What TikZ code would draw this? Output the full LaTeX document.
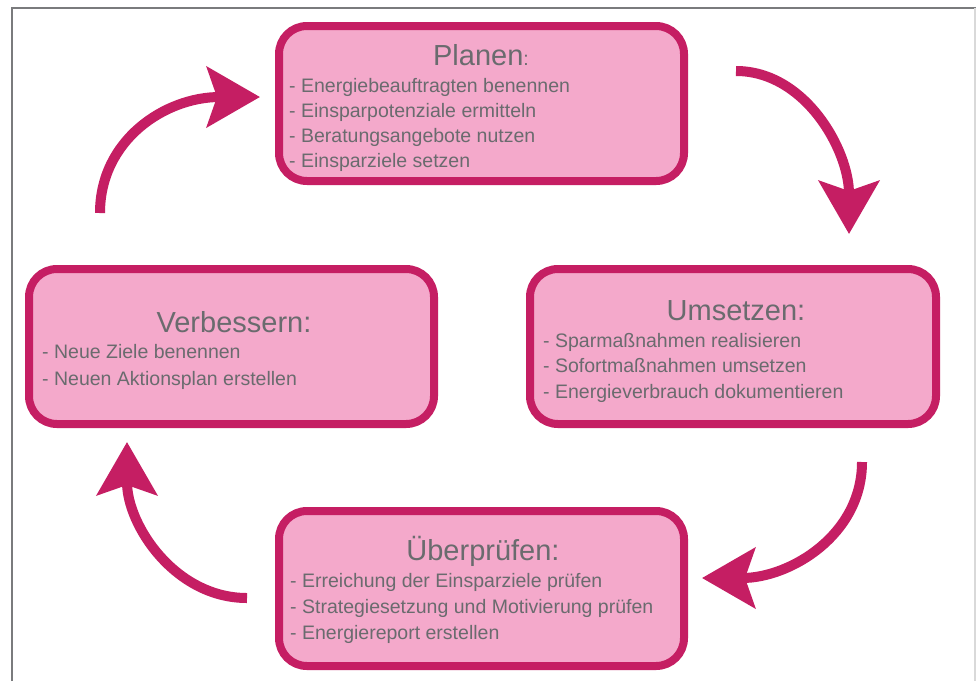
\documentclass[tikz,border=0pt]{standalone}
\usepackage{fontspec}
\setmainfont{Liberation Sans}
\usetikzlibrary{arrows.meta}
\definecolor{mag}{HTML}{C51E63}
\definecolor{pinkfill}{HTML}{F4A9CB}
\definecolor{txtgray}{HTML}{6A6B6E}
\definecolor{framegray}{HTML}{7A7B7D}
\tikzset{
  stagebox/.style={draw=mag, fill=pinkfill, line width=8pt, rounded corners=28pt,
    minimum width=405pt, minimum height=155pt, inner sep=0pt},
  titletext/.style={anchor=base, inner sep=0pt, text=txtgray, font=\fontsize{29}{30}\selectfont},
  itemtext/.style={anchor=base west, inner sep=0pt, text=txtgray, font=\fontsize{19.5}{20}\selectfont},
  cyclearrow/.style={draw=mag, line width=10pt, -{Stealth[length=53pt, width=60pt, inset=10pt]}}
}
\begin{document}
\begin{tikzpicture}[x=1pt, y=-1pt]
\useasboundingbox (0,0) rectangle (976,681);
\fill[white] (0,0) rectangle (976,681);
% frame
\draw[framegray, line width=2.5pt] (12,681) -- (12,8) -- (976,8);
\draw[gray!30, line width=1.5pt] (975,8) -- (975,681);

% boxes
\node[stagebox] (plan) at (481.5,103.5) {};
\node[stagebox] (verb) at (231.5,346.5) {};
\node[stagebox, minimum width=406pt] (ums) at (733,346.5) {};
\node[stagebox] (ueb) at (481.5,588.5) {};

% Planen
\node[titletext] (planT) at (481,65) {Planen{\fontsize{19.5}{20}\selectfont :}};
\node[itemtext] (planA) at (289,92) {- Energiebeauftragten benennen};
\node[itemtext] (planB) at (289,117) {- Einsparpotenziale ermitteln};
\node[itemtext] (planC) at (289,142) {- Beratungsangebote nutzen};
\node[itemtext] (planD) at (289,167) {- Einsparziele setzen};

% Verbessern
\node[titletext] (verbT) at (234,332) {Verbessern:};
\node[itemtext] (verbA) at (42,358) {- Neue Ziele benennen};
\node[itemtext] (verbB) at (42,385) {- Neuen Aktionsplan erstellen};

% Umsetzen
\node[titletext] (umsT) at (736,320) {Umsetzen:};
\node[itemtext] (umsA) at (543,347) {- Sparmaßnahmen realisieren};
\node[itemtext] (umsB) at (543,372) {- Sofortmaßnahmen umsetzen};
\node[itemtext] (umsC) at (543,398) {- Energieverbrauch dokumentieren};

% Ueberpruefen
\node[titletext] (uebT) at (483,560) {Überprüfen:};
\node[itemtext] (uebA) at (290,587) {- Erreichung der Einsparziele prüfen};
\node[itemtext] (uebB) at (290,613) {- Strategiesetzung und Motivierung prüfen};
\node[itemtext] (uebC) at (290,639) {- Energiereport erstellen};

% arrow end points
\coordinate (a1s) at (100,213);
\coordinate (a1e) at (260,97);
\coordinate (a2s) at (736,71);
\coordinate (a2e) at (849,234);
\coordinate (a3s) at (862,462);
\coordinate (a3e) at (702,578);
\coordinate (a4s) at (247,598);
\coordinate (a4e) at (127,442);

\draw[cyclearrow] (a1s) .. controls (100,140) and (165,97) .. (a1e);
\draw[cyclearrow] (a2s) .. controls (805,71) and (849,150) .. (a2e);
\draw[cyclearrow] (a3s) .. controls (862,535) and (790,578) .. (a3e);
\draw[cyclearrow] (a4s) .. controls (175,598) and (127,525) .. (a4e);
\end{tikzpicture}
\end{document}
